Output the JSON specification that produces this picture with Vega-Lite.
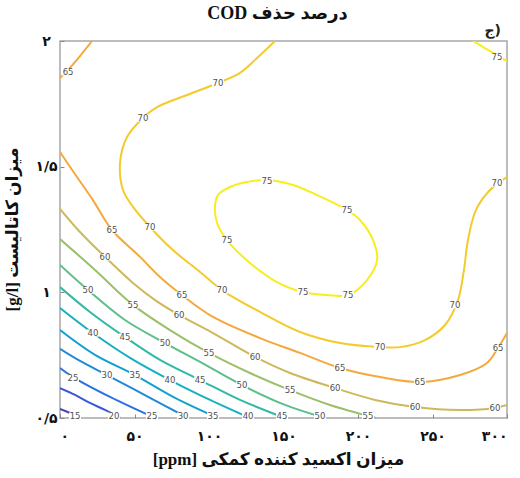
{
  "$schema": "https://vega.github.io/schema/vega-lite/v6.json",
  "width": 447,
  "height": 377,
  "autosize": {"type": "none"},
  "padding": {"left": 60, "top": 41, "right": 13, "bottom": 60},
  "background": "white",
  "title": {
    "text": "\u202bدرصد حذف  COD\u202c",
    "anchor": "middle",
    "dx": -6,
    "offset": 1,
    "font": "Liberation Serif, DejaVu Sans",
    "fontSize": 18,
    "fontWeight": "bold",
    "color": "#111111"
  },
  "config": {
    "view": {"stroke": "#a8a8a8", "strokeWidth": 1.5},
    "axis": {
      "domain": false,
      "grid": false,
      "ticks": true,
      "tickSize": -4,
      "tickColor": "#888888",
      "labelFont": "DejaVu Sans",
      "labelFontSize": 14,
      "labelFontWeight": "bold",
      "labelColor": "#111111",
      "titleFont": "Liberation Serif, DejaVu Sans",
      "titleFontSize": 17,
      "titleFontWeight": "bold",
      "titleColor": "#111111"
    }
  },
  "datasets": {
    "lines": [
      {"seg": "15", "level": 15, "i": 0, "ppm": 0, "cat": 0.536},
      {"seg": "15", "level": 15, "i": 1, "ppm": 6.7, "cat": 0.52},
      {"seg": "15", "level": 15, "i": 2, "ppm": 14.0, "cat": 0.5},

      {"seg": "20", "level": 20, "i": 0, "ppm": 0, "cat": 0.619},
      {"seg": "20", "level": 20, "i": 1, "ppm": 10.1, "cat": 0.592},
      {"seg": "20", "level": 20, "i": 2, "ppm": 20.1, "cat": 0.56},
      {"seg": "20", "level": 20, "i": 3, "ppm": 30.2, "cat": 0.532},
      {"seg": "20", "level": 20, "i": 4, "ppm": 40.3, "cat": 0.5},

      {"seg": "25", "level": 25, "i": 0, "ppm": 0, "cat": 0.699},
      {"seg": "25", "level": 25, "i": 1, "ppm": 8.7, "cat": 0.663},
      {"seg": "25", "level": 25, "i": 2, "ppm": 33.6, "cat": 0.584},
      {"seg": "25", "level": 25, "i": 3, "ppm": 63.8, "cat": 0.5},

      {"seg": "30", "level": 30, "i": 0, "ppm": 0, "cat": 0.775},
      {"seg": "30", "level": 30, "i": 1, "ppm": 13.4, "cat": 0.727},
      {"seg": "30", "level": 30, "i": 2, "ppm": 31.5, "cat": 0.671},
      {"seg": "30", "level": 30, "i": 3, "ppm": 60.4, "cat": 0.58},
      {"seg": "30", "level": 30, "i": 4, "ppm": 85.9, "cat": 0.5},

      {"seg": "35", "level": 35, "i": 0, "ppm": 0, "cat": 0.85},
      {"seg": "35", "level": 35, "i": 1, "ppm": 23.5, "cat": 0.751},
      {"seg": "35", "level": 35, "i": 2, "ppm": 50.3, "cat": 0.671},
      {"seg": "35", "level": 35, "i": 3, "ppm": 77.2, "cat": 0.58},
      {"seg": "35", "level": 35, "i": 4, "ppm": 106.0, "cat": 0.5},

      {"seg": "40", "level": 40, "i": 0, "ppm": 0, "cat": 0.938},
      {"seg": "40", "level": 40, "i": 1, "ppm": 22.1, "cat": 0.838},
      {"seg": "40", "level": 40, "i": 2, "ppm": 47.0, "cat": 0.739},
      {"seg": "40", "level": 40, "i": 3, "ppm": 73.8, "cat": 0.651},
      {"seg": "40", "level": 40, "i": 4, "ppm": 100.7, "cat": 0.572},
      {"seg": "40", "level": 40, "i": 5, "ppm": 127.5, "cat": 0.5},

      {"seg": "45", "level": 45, "i": 0, "ppm": 0, "cat": 1.021},
      {"seg": "45", "level": 45, "i": 1, "ppm": 20.1, "cat": 0.922},
      {"seg": "45", "level": 45, "i": 2, "ppm": 43.6, "cat": 0.822},
      {"seg": "45", "level": 45, "i": 3, "ppm": 67.1, "cat": 0.731},
      {"seg": "45", "level": 45, "i": 4, "ppm": 94.0, "cat": 0.651},
      {"seg": "45", "level": 45, "i": 5, "ppm": 120.8, "cat": 0.572},
      {"seg": "45", "level": 45, "i": 6, "ppm": 151.0, "cat": 0.5},

      {"seg": "50", "level": 50, "i": 0, "ppm": 0, "cat": 1.109},
      {"seg": "50", "level": 50, "i": 1, "ppm": 18.8, "cat": 1.009},
      {"seg": "50", "level": 50, "i": 2, "ppm": 43.6, "cat": 0.89},
      {"seg": "50", "level": 50, "i": 3, "ppm": 70.5, "cat": 0.798},
      {"seg": "50", "level": 50, "i": 4, "ppm": 94.0, "cat": 0.723},
      {"seg": "50", "level": 50, "i": 5, "ppm": 122.1, "cat": 0.631},
      {"seg": "50", "level": 50, "i": 6, "ppm": 151.0, "cat": 0.552},
      {"seg": "50", "level": 50, "i": 7, "ppm": 177.9, "cat": 0.5},

      {"seg": "55", "level": 55, "i": 0, "ppm": 0, "cat": 1.212},
      {"seg": "55", "level": 55, "i": 1, "ppm": 23.5, "cat": 1.089},
      {"seg": "55", "level": 55, "i": 2, "ppm": 49.0, "cat": 0.95},
      {"seg": "55", "level": 55, "i": 3, "ppm": 73.8, "cat": 0.85},
      {"seg": "55", "level": 55, "i": 4, "ppm": 100.0, "cat": 0.759},
      {"seg": "55", "level": 55, "i": 5, "ppm": 127.5, "cat": 0.679},
      {"seg": "55", "level": 55, "i": 6, "ppm": 154.4, "cat": 0.611},
      {"seg": "55", "level": 55, "i": 7, "ppm": 181.2, "cat": 0.552},
      {"seg": "55", "level": 55, "i": 8, "ppm": 212.1, "cat": 0.5},

      {"seg": "60", "level": 60, "i": 0, "ppm": 0, "cat": 1.332},
      {"seg": "60", "level": 60, "i": 1, "ppm": 13.4, "cat": 1.24},
      {"seg": "60", "level": 60, "i": 2, "ppm": 30.2, "cat": 1.141},
      {"seg": "60", "level": 60, "i": 3, "ppm": 49.0, "cat": 1.037},
      {"seg": "60", "level": 60, "i": 4, "ppm": 63.8, "cat": 0.969},
      {"seg": "60", "level": 60, "i": 5, "ppm": 79.9, "cat": 0.91},
      {"seg": "60", "level": 60, "i": 6, "ppm": 102.7, "cat": 0.838},
      {"seg": "60", "level": 60, "i": 7, "ppm": 130.9, "cat": 0.743},
      {"seg": "60", "level": 60, "i": 8, "ppm": 154.4, "cat": 0.679},
      {"seg": "60", "level": 60, "i": 9, "ppm": 184.6, "cat": 0.619},
      {"seg": "60", "level": 60, "i": 10, "ppm": 211.4, "cat": 0.572},
      {"seg": "60", "level": 60, "i": 11, "ppm": 238.3, "cat": 0.544},
      {"seg": "60", "level": 60, "i": 12, "ppm": 268.5, "cat": 0.532},
      {"seg": "60", "level": 60, "i": 13, "ppm": 291.9, "cat": 0.54},
      {"seg": "60", "level": 60, "i": 14, "ppm": 300, "cat": 0.552},

      {"seg": "65a", "level": 65, "i": 0, "ppm": 0, "cat": 1.558},
      {"seg": "65a", "level": 65, "i": 1, "ppm": 11.4, "cat": 1.459},
      {"seg": "65a", "level": 65, "i": 2, "ppm": 22.1, "cat": 1.367},
      {"seg": "65a", "level": 65, "i": 3, "ppm": 34.9, "cat": 1.248},
      {"seg": "65a", "level": 65, "i": 4, "ppm": 53.7, "cat": 1.141},
      {"seg": "65a", "level": 65, "i": 5, "ppm": 67.1, "cat": 1.061},
      {"seg": "65a", "level": 65, "i": 6, "ppm": 81.9, "cat": 0.989},
      {"seg": "65a", "level": 65, "i": 7, "ppm": 102.7, "cat": 0.902},
      {"seg": "65a", "level": 65, "i": 8, "ppm": 134.2, "cat": 0.818},
      {"seg": "65a", "level": 65, "i": 9, "ppm": 161.1, "cat": 0.759},
      {"seg": "65a", "level": 65, "i": 10, "ppm": 187.9, "cat": 0.699},
      {"seg": "65a", "level": 65, "i": 11, "ppm": 214.8, "cat": 0.663},
      {"seg": "65a", "level": 65, "i": 12, "ppm": 241.6, "cat": 0.643},
      {"seg": "65a", "level": 65, "i": 13, "ppm": 268.5, "cat": 0.671},
      {"seg": "65a", "level": 65, "i": 14, "ppm": 286.6, "cat": 0.719},
      {"seg": "65a", "level": 65, "i": 15, "ppm": 294.0, "cat": 0.779},
      {"seg": "65a", "level": 65, "i": 16, "ppm": 300, "cat": 0.838},

      {"seg": "65b", "level": 65, "i": 0, "ppm": 0, "cat": 1.853},
      {"seg": "65b", "level": 65, "i": 1, "ppm": 5.4, "cat": 1.885},
      {"seg": "65b", "level": 65, "i": 2, "ppm": 13.4, "cat": 1.94},
      {"seg": "65b", "level": 65, "i": 3, "ppm": 21.5, "cat": 2.0},

      {"seg": "70", "level": 70, "i": 0, "ppm": 144.3, "cat": 2.0},
      {"seg": "70", "level": 70, "i": 1, "ppm": 132.2, "cat": 1.932},
      {"seg": "70", "level": 70, "i": 2, "ppm": 120.8, "cat": 1.873},
      {"seg": "70", "level": 70, "i": 3, "ppm": 106.0, "cat": 1.833},
      {"seg": "70", "level": 70, "i": 4, "ppm": 85.2, "cat": 1.785},
      {"seg": "70", "level": 70, "i": 5, "ppm": 65.1, "cat": 1.737},
      {"seg": "70", "level": 70, "i": 6, "ppm": 55.7, "cat": 1.694},
      {"seg": "70", "level": 70, "i": 7, "ppm": 45.0, "cat": 1.618},
      {"seg": "70", "level": 70, "i": 8, "ppm": 40.3, "cat": 1.515},
      {"seg": "70", "level": 70, "i": 9, "ppm": 42.3, "cat": 1.407},
      {"seg": "70", "level": 70, "i": 10, "ppm": 49.0, "cat": 1.34},
      {"seg": "70", "level": 70, "i": 11, "ppm": 60.4, "cat": 1.26},
      {"seg": "70", "level": 70, "i": 12, "ppm": 75.8, "cat": 1.168},
      {"seg": "70", "level": 70, "i": 13, "ppm": 94.0, "cat": 1.081},
      {"seg": "70", "level": 70, "i": 14, "ppm": 108.7, "cat": 1.009},
      {"seg": "70", "level": 70, "i": 15, "ppm": 134.2, "cat": 0.922},
      {"seg": "70", "level": 70, "i": 16, "ppm": 161.1, "cat": 0.842},
      {"seg": "70", "level": 70, "i": 17, "ppm": 187.9, "cat": 0.798},
      {"seg": "70", "level": 70, "i": 18, "ppm": 214.8, "cat": 0.782},
      {"seg": "70", "level": 70, "i": 19, "ppm": 228.2, "cat": 0.782},
      {"seg": "70", "level": 70, "i": 20, "ppm": 245.0, "cat": 0.81},
      {"seg": "70", "level": 70, "i": 21, "ppm": 258.4, "cat": 0.87},
      {"seg": "70", "level": 70, "i": 22, "ppm": 267.1, "cat": 0.969},
      {"seg": "70", "level": 70, "i": 23, "ppm": 271.1, "cat": 1.089},
      {"seg": "70", "level": 70, "i": 24, "ppm": 273.8, "cat": 1.208},
      {"seg": "70", "level": 70, "i": 25, "ppm": 279.2, "cat": 1.328},
      {"seg": "70", "level": 70, "i": 26, "ppm": 288.6, "cat": 1.407},
      {"seg": "70", "level": 70, "i": 27, "ppm": 300, "cat": 1.459},

      {"seg": "75b", "level": 75, "i": 0, "ppm": 277.2, "cat": 2.0},
      {"seg": "75b", "level": 75, "i": 1, "ppm": 285.2, "cat": 1.972},
      {"seg": "75b", "level": 75, "i": 2, "ppm": 293.3, "cat": 1.944},
      {"seg": "75b", "level": 75, "i": 3, "ppm": 300, "cat": 1.92}
    ],
    "ring": [
      {"level": 75, "i": 0, "ppm": 138.9, "cat": 1.447},
      {"level": 75, "i": 1, "ppm": 156.4, "cat": 1.427},
      {"level": 75, "i": 2, "ppm": 172.5, "cat": 1.387},
      {"level": 75, "i": 3, "ppm": 192.6, "cat": 1.328},
      {"level": 75, "i": 4, "ppm": 201.3, "cat": 1.288},
      {"level": 75, "i": 5, "ppm": 210.1, "cat": 1.208},
      {"level": 75, "i": 6, "ppm": 212.8, "cat": 1.129},
      {"level": 75, "i": 7, "ppm": 206.0, "cat": 1.049},
      {"level": 75, "i": 8, "ppm": 193.3, "cat": 0.989},
      {"level": 75, "i": 9, "ppm": 179.2, "cat": 0.989},
      {"level": 75, "i": 10, "ppm": 163.1, "cat": 1.001},
      {"level": 75, "i": 11, "ppm": 145.6, "cat": 1.041},
      {"level": 75, "i": 12, "ppm": 127.5, "cat": 1.117},
      {"level": 75, "i": 13, "ppm": 112.1, "cat": 1.208},
      {"level": 75, "i": 14, "ppm": 105.4, "cat": 1.276},
      {"level": 75, "i": 15, "ppm": 104.0, "cat": 1.34},
      {"level": 75, "i": 16, "ppm": 106.0, "cat": 1.387},
      {"level": 75, "i": 17, "ppm": 114.1, "cat": 1.419},
      {"level": 75, "i": 18, "ppm": 125.5, "cat": 1.439}
    ],
    "labels": [
      {"level": 65, "ppm": 5.4, "cat": 1.877},
      {"level": 70, "ppm": 55.7, "cat": 1.694},
      {"level": 70, "ppm": 106.0, "cat": 1.833},
      {"level": 75, "ppm": 293.3, "cat": 1.936},
      {"level": 70, "ppm": 293.3, "cat": 1.435},
      {"level": 75, "ppm": 138.9, "cat": 1.443},
      {"level": 75, "ppm": 192.6, "cat": 1.328},
      {"level": 75, "ppm": 112.1, "cat": 1.208},
      {"level": 75, "ppm": 163.1, "cat": 1.001},
      {"level": 75, "ppm": 193.3, "cat": 0.989},
      {"level": 70, "ppm": 60.4, "cat": 1.26},
      {"level": 70, "ppm": 108.7, "cat": 1.009},
      {"level": 70, "ppm": 214.8, "cat": 0.782},
      {"level": 70, "ppm": 265.1, "cat": 0.95},
      {"level": 65, "ppm": 34.9, "cat": 1.248},
      {"level": 65, "ppm": 81.9, "cat": 0.989},
      {"level": 65, "ppm": 187.9, "cat": 0.699},
      {"level": 65, "ppm": 241.6, "cat": 0.643},
      {"level": 65, "ppm": 294.0, "cat": 0.779},
      {"level": 60, "ppm": 30.2, "cat": 1.141},
      {"level": 60, "ppm": 79.9, "cat": 0.91},
      {"level": 60, "ppm": 130.9, "cat": 0.743},
      {"level": 60, "ppm": 184.6, "cat": 0.619},
      {"level": 60, "ppm": 238.3, "cat": 0.544},
      {"level": 60, "ppm": 291.9, "cat": 0.54},
      {"level": 55, "ppm": 49.0, "cat": 0.95},
      {"level": 55, "ppm": 100.0, "cat": 0.759},
      {"level": 55, "ppm": 154.4, "cat": 0.611},
      {"level": 55, "ppm": 206.7, "cat": 0.508},
      {"level": 50, "ppm": 18.8, "cat": 1.009},
      {"level": 50, "ppm": 70.5, "cat": 0.798},
      {"level": 50, "ppm": 122.1, "cat": 0.631},
      {"level": 50, "ppm": 174.5, "cat": 0.508},
      {"level": 45, "ppm": 43.6, "cat": 0.822},
      {"level": 45, "ppm": 94.0, "cat": 0.651},
      {"level": 45, "ppm": 149.0, "cat": 0.508},
      {"level": 40, "ppm": 22.1, "cat": 0.838},
      {"level": 40, "ppm": 73.8, "cat": 0.651},
      {"level": 40, "ppm": 126.2, "cat": 0.508},
      {"level": 35, "ppm": 50.3, "cat": 0.671},
      {"level": 35, "ppm": 102.7, "cat": 0.508},
      {"level": 30, "ppm": 31.5, "cat": 0.671},
      {"level": 30, "ppm": 82.6, "cat": 0.508},
      {"level": 25, "ppm": 8.7, "cat": 0.659},
      {"level": 25, "ppm": 61.7, "cat": 0.508},
      {"level": 20, "ppm": 36.2, "cat": 0.508},
      {"level": 15, "ppm": 10.1, "cat": 0.508}
    ]
  },
  "layer": [
    {
      "data": {"name": "lines"},
      "mark": {"type": "line", "interpolate": "catmull-rom", "strokeWidth": 2, "clip": true},
      "encoding": {
        "x": {
          "field": "ppm",
          "type": "quantitative",
          "scale": {"domain": [0, 300], "nice": false},
          "axis": {
            "values": [0, 50, 100, 150, 200, 250, 300],
            "labelExpr": "replace(replace(replace(replace(replace(replace(datum.value + '', regexp('0','g'), '۰'), regexp('1','g'), '۱'), regexp('2','g'), '۲'), regexp('3','g'), '۳'), regexp('5','g'), '۵'), regexp('[.]','g'), '/')",
            "labelPadding": 15,
            "title": "\u202bمیزان اکسید کننده کمکی [ppm]\u202c",
            "titleX": 218,
            "titlePadding": 8
          }
        },
        "y": {
          "field": "cat",
          "type": "quantitative",
          "scale": {"domain": [0.5, 2], "nice": false},
          "axis": {
            "values": [0.5, 1, 1.5, 2],
            "labelExpr": "replace(replace(replace(replace(replace(replace(datum.value + '', regexp('0','g'), '۰'), regexp('1','g'), '۱'), regexp('2','g'), '۲'), regexp('3','g'), '۳'), regexp('5','g'), '۵'), regexp('[.]','g'), '/')",
            "labelAlign": "center",
            "labelPadding": 18,
            "title": "\u202bمیزان کاتالیست [g/l]\u202c",
            "titleX": -48,
            "titleY": 188,
            "titleBaseline": "middle",
            "titleAngle": -90
          }
        },
        "detail": {"field": "seg"},
        "order": {"field": "i", "type": "quantitative"},
        "color": {
          "field": "level",
          "type": "ordinal",
          "scale": {
            "domain": [15, 20, 25, 30, 35, 40, 45, 50, 55, 60, 65, 70, 75],
            "range": ["#4b3fb5", "#3b56d8", "#2a72e2", "#1e8ad9", "#13a0d0", "#17b0c0", "#2fb9a6", "#5cbf8a", "#9bc06a", "#cdb95c", "#f5a83e", "#f2cb2c", "#f7ee1c"]
          },
          "legend": null
        }
      }
    },
    {
      "data": {"name": "ring"},
      "mark": {"type": "line", "interpolate": "catmull-rom-closed", "strokeWidth": 2, "clip": true},
      "encoding": {
        "x": {"field": "ppm", "type": "quantitative"},
        "y": {"field": "cat", "type": "quantitative"},
        "order": {"field": "i", "type": "quantitative"},
        "color": {"field": "level", "type": "ordinal", "legend": null}
      }
    },
    {
      "data": {"name": "labels"},
      "mark": {"type": "point", "shape": "M-1,-0.6H1V0.6H-1Z", "filled": true, "color": "white", "opacity": 1, "size": 144},
      "encoding": {
        "x": {"field": "ppm", "type": "quantitative"},
        "y": {"field": "cat", "type": "quantitative"}
      }
    },
    {
      "data": {"name": "labels"},
      "mark": {"type": "text", "font": "DejaVu Sans", "fontSize": 8.5, "color": "#505050"},
      "encoding": {
        "x": {"field": "ppm", "type": "quantitative"},
        "y": {"field": "cat", "type": "quantitative"},
        "text": {"field": "level", "type": "quantitative"}
      }
    },
    {
      "data": {"values": [{"tag": "ج)"}]},
      "mark": {"type": "text", "align": "right", "baseline": "bottom", "dx": -6, "dy": -3, "font": "DejaVu Sans", "fontSize": 14, "fontWeight": "bold", "color": "#222222"},
      "encoding": {
        "x": {"datum": 300},
        "y": {"datum": 2},
        "text": {"field": "tag"}
      }
    }
  ]
}
